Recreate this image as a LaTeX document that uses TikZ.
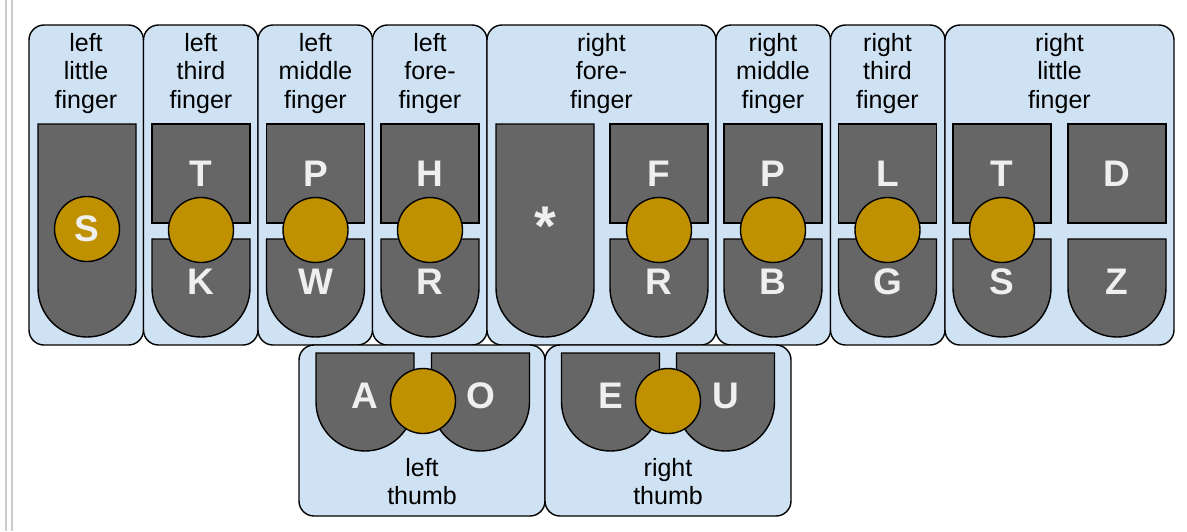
\documentclass[tikz,border=0pt]{standalone}
\usepackage{fontspec}
\setmainfont{Liberation Sans}
\definecolor{boxblue}{HTML}{CFE2F3}
\definecolor{keygray}{HTML}{666666}
\definecolor{bumpgold}{HTML}{BF9000}
\definecolor{keytext}{HTML}{EFEFEF}
\definecolor{rulegray}{HTML}{CCCCCC}
\tikzset{
  fingerbox/.style={draw=black, line width=1.4pt, fill=boxblue, rounded corners=15pt},
  keyshape/.style={draw=black, line width=1.4pt, fill=keygray},
  bump/.style={circle, draw=black, line width=1.4pt, fill=bumpgold, minimum size=65pt, inner sep=0pt},
  keylet/.style={inner sep=0pt, text=keytext, font=\fontsize{37}{40}\selectfont\bfseries},
  lab/.style={inner sep=0pt, anchor=north, align=center, font=\fontsize{25}{28.5}\selectfont},
}
% key outlines: x centre (and top edge for the rounded ones)
\newcommand\topkey[1]{\draw[keyshape] (#1-49,124) rectangle (#1+49,223);}
\newcommand\lowkey[2]{\draw[keyshape] (#1-49,#2) -- (#1-49,#2+49) arc[start angle=180, end angle=0, radius=49] -- (#1+49,#2) -- cycle;}
\newcommand\tallkey[1]{\draw[keyshape] (#1-49,124) -- (#1-49,288) arc[start angle=180, end angle=0, radius=49] -- (#1+49,124) -- cycle;}
\begin{document}
\begin{tikzpicture}[x=1pt, y=-1pt]
\useasboundingbox (0,0) rectangle (1187,531);
% margin rules
\draw[rulegray, line width=2pt] (6,0) -- (6,531);
\draw[rulegray, line width=2pt] (12,0) -- (12,531);

% finger panels
\draw[fingerbox] (29,25) rectangle (143.5,345);
\draw[fingerbox] (143.5,25) rectangle (258,345);
\draw[fingerbox] (258,25) rectangle (372.5,345);
\draw[fingerbox] (372.5,25) rectangle (487,345);
\draw[fingerbox] (487,25) rectangle (716,345);
\draw[fingerbox] (716,25) rectangle (830.5,345);
\draw[fingerbox] (830.5,25) rectangle (945,345);
\draw[fingerbox] (945,25) rectangle (1174,345);
% thumb panels
\draw[fingerbox] (299,345) rectangle (545,516);
\draw[fingerbox] (545,345) rectangle (791,516);

% finger labels
\node[lab] (lLittle) at (86,33) {left\\little\\finger};
\node[lab] (lThird) at (201,33) {left\\third\\finger};
\node[lab] (lMiddle) at (315.5,33) {left\\middle\\finger};
\node[lab] (lFore) at (430,33) {left\\fore-\\finger};
\node[lab] (rFore) at (601.5,33) {right\\fore-\\finger};
\node[lab] (rMiddle) at (773,33) {right\\middle\\finger};
\node[lab] (rThird) at (887.5,33) {right\\third\\finger};
\node[lab] (rLittle) at (1059.5,33) {right\\little\\finger};
\node[lab] (lThumb) at (422,458) {left\\thumb};
\node[lab] (rThumb) at (668,458) {right\\thumb};

% keys
\tallkey{87}
\topkey{201}    \lowkey{201}{239}
\topkey{315.5}  \lowkey{315.5}{239}
\topkey{430}    \lowkey{430}{239}
\tallkey{545}
\topkey{659}    \lowkey{659}{239}
\topkey{773}    \lowkey{773}{239}
\topkey{887.5}  \lowkey{887.5}{239}
\topkey{1002}   \lowkey{1002}{239}
\topkey{1117}   \lowkey{1117}{239}
\lowkey{365}{353}   \lowkey{480.5}{353}
\lowkey{610.5}{353} \lowkey{725.5}{353}

% bumps between key pairs
\node[bump] (b1) at (87,229) {};
\node[bump] (b2) at (201,230) {};
\node[bump] (b3) at (315.5,230) {};
\node[bump] (b4) at (430,230) {};
\node[bump] (b5) at (659,230) {};
\node[bump] (b6) at (773,230) {};
\node[bump] (b7) at (887.5,230) {};
\node[bump] (b8) at (1002,230) {};
\node[bump] (b9) at (423,401) {};
\node[bump] (b10) at (668,401) {};

% key letters
\node[keylet] (kS) at (87,229) {S};
\node[keylet] (kT) at (201,174) {T};
\node[keylet] (kK) at (201,282) {K};
\node[keylet] (kP) at (315.5,174) {P};
\node[keylet] (kW) at (315.5,282) {W};
\node[keylet] (kH) at (430,174) {H};
\node[keylet] (kR) at (430,282) {R};
\node[keylet, font=\fontsize{56}{60}\selectfont\bfseries] (kStar) at (545,226) {*};
\node[keylet] (kF) at (659,174) {F};
\node[keylet] (kRr) at (659,282) {R};
\node[keylet] (kPr) at (773,174) {P};
\node[keylet] (kB) at (773,282) {B};
\node[keylet] (kL) at (887.5,174) {L};
\node[keylet] (kG) at (887.5,282) {G};
\node[keylet] (kTr) at (1002,174) {T};
\node[keylet] (kSr) at (1002,282) {S};
\node[keylet] (kD) at (1117,174) {D};
\node[keylet] (kZ) at (1117,282) {Z};
\node[keylet] (kA) at (365,396) {A};
\node[keylet] (kO) at (480.5,396) {O};
\node[keylet] (kE) at (610.5,396) {E};
\node[keylet] (kU) at (725.5,396) {U};
\end{tikzpicture}
\end{document}
